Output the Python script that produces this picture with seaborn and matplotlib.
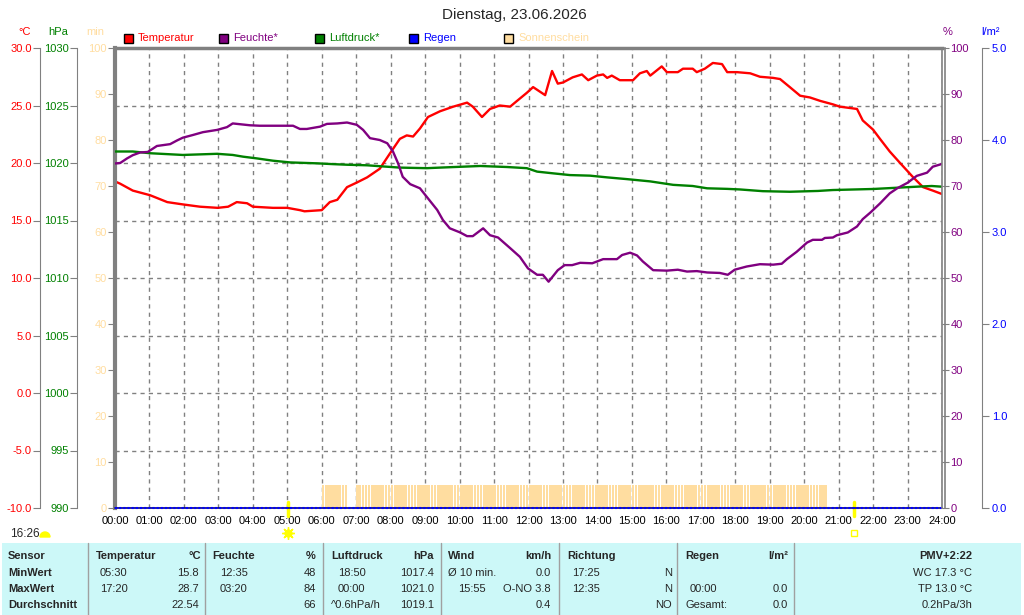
import pandas as pd
import matplotlib
matplotlib.use("Agg")
import matplotlib.pyplot as plt
import seaborn as sns
from matplotlib.patches import Rectangle, Wedge
from matplotlib.ticker import FormatStrFormatter, MultipleLocator
from matplotlib.transforms import blended_transform_factory, IdentityTransform

# ---- data ----
temp_times = ["00:00", "00:09", "00:31", "01:01", "01:31", "01:58", "02:28", "02:59", "03:17", "03:32",
              "03:50", "04:00", "04:35", "05:00", "05:22", "05:30", "06:00", "06:14", "06:27", "06:44",
              "07:01", "07:19", "07:41", "07:59", "08:16", "08:28", "08:39", "08:51", "09:05", "09:26",
              "09:49", "10:13", "10:23", "10:39", "10:53", "11:10", "11:28", "11:40", "11:57", "12:08",
              "12:20", "12:29", "12:41", "12:51", "13:00", "13:17", "13:33", "13:44", "13:59", "14:10",
              "14:17", "14:25", "14:39", "15:02", "15:14", "15:26", "15:32", "15:52", "16:01", "16:20",
              "16:29", "16:46", "16:53", "17:07", "17:21", "17:37", "17:46", "18:03", "18:26", "18:43",
              "19:06", "19:18", "19:35", "19:53", "20:10", "20:28", "20:50", "21:02", "21:32", "21:42",
              "22:00", "22:12", "22:29", "22:47", "23:09", "23:27", "23:44", "24:00"]
temp_vals = [18.4, 18.2, 17.6, 17.2, 16.6, 16.4, 16.2, 16.1, 16.2, 16.6,
             16.5, 16.2, 16.1, 16.1, 15.9, 15.8, 15.9, 16.6, 16.8, 17.9,
             18.3, 18.75, 19.5, 20.85, 22.1, 22.4, 22.3, 23.0, 24.0, 24.5,
             24.9, 25.25, 24.9, 24.0, 24.7, 25.0, 24.9, 25.4, 26.1, 26.6,
             26.2, 25.9, 28.0, 26.9, 27.0, 27.45, 27.7, 27.2, 27.6, 27.7,
             27.4, 27.6, 27.2, 27.2, 27.8, 28.0, 27.6, 28.4, 27.9, 27.9,
             28.2, 28.2, 27.9, 28.2, 28.7, 28.6, 27.9, 27.9, 27.8, 27.5,
             27.4, 27.3, 26.6, 25.85, 25.7, 25.4, 25.1, 24.9, 24.7, 23.7,
             22.9, 22.1, 21.0, 20.0, 18.8, 17.9, 17.6, 17.3]

hum_times = ["00:00", "00:09", "00:21", "00:31", "00:44", "00:57", "01:13", "01:36", "01:48", "01:58",
             "02:16", "02:33", "02:58", "03:15", "03:25", "03:55", "04:12", "05:10", "05:22", "05:34",
             "05:57", "06:09", "06:27", "06:44", "07:01", "07:12", "07:24", "07:41", "07:54", "08:04",
             "08:13", "08:21", "08:34", "08:51", "09:05", "09:21", "09:31", "09:43", "10:01", "10:13",
             "10:23", "10:41", "10:53", "11:07", "11:28", "11:45", "11:59", "12:15", "12:25", "12:35",
             "12:51", "13:03", "13:16", "13:30", "13:51", "14:10", "14:34", "14:43", "14:57", "15:09",
             "15:19", "15:37", "16:01", "16:20", "16:36", "16:53", "17:11", "17:33", "17:47", "17:59",
             "18:20", "18:43", "19:06", "19:21", "19:30", "19:47", "20:05", "20:15", "20:31", "20:36",
             "20:50", "20:57", "21:16", "21:32", "21:42", "21:55", "22:12", "22:29", "22:42", "23:00",
             "23:16", "23:34", "23:44", "24:00"]
hum_vals = [74.9, 75.0, 76.0, 76.7, 77.3, 77.4, 78.7, 79.1, 79.9, 80.5,
            81.1, 81.7, 82.2, 82.8, 83.6, 83.2, 83.1, 83.1, 82.4, 82.4,
            82.9, 83.5, 83.6, 83.8, 83.3, 82.2, 80.4, 80.0, 79.3, 77.5,
            74.9, 72.0, 70.4, 69.5, 67.3, 64.8, 62.6, 60.8, 59.9, 59.1,
            59.1, 60.8, 59.3, 58.8, 56.5, 54.6, 52.1, 50.7, 50.7, 49.2,
            51.7, 52.8, 52.8, 53.3, 53.2, 54.1, 54.1, 55.0, 55.5, 54.9,
            53.6, 51.7, 51.6, 51.8, 51.4, 51.5, 51.2, 51.1, 50.7, 51.8,
            52.5, 53.0, 52.9, 53.1, 54.1, 55.7, 57.7, 58.3, 58.3, 58.7,
            58.8, 59.3, 59.9, 61.2, 62.8, 64.2, 66.2, 68.4, 69.5, 70.7,
            72.2, 72.9, 74.2, 74.8]

press_times = ["00:00", "00:31", "01:01", "01:58", "02:58", "03:25", "03:43", "04:07", "04:35", "05:05",
               "05:52", "06:20", "06:44", "07:19", "07:47", "08:16", "09:03", "09:26", "10:36", "11:23",
               "11:57", "12:15", "12:43", "13:12", "13:47", "14:17", "14:51", "15:32", "16:12", "16:46",
               "17:11", "17:46", "18:08", "18:48", "19:35", "20:24", "20:50", "22:00", "23:16", "23:42",
               "24:00"]
press_vals = [1021.0, 1021.0, 1020.85, 1020.7, 1020.8, 1020.7, 1020.55, 1020.4, 1020.2, 1020.05,
              1019.97, 1019.9, 1019.85, 1019.8, 1019.7, 1019.6, 1019.55, 1019.6, 1019.74, 1019.65,
              1019.55, 1019.25, 1019.1, 1018.95, 1018.9, 1018.75, 1018.6, 1018.4, 1018.1, 1018.0,
              1017.8, 1017.75, 1017.7, 1017.55, 1017.5, 1017.57, 1017.65, 1017.74, 1017.94, 1018.0,
              1017.94]

sun_periods = [("06:00", "06:45"), ("07:00", "20:40")]   # sunshine 5 min per 5-min slot
sun_minutes = 5
rain_times = ["00:00", "24:00"]
rain_vals = [0.0, 0.0]
sunrise = "05:01"
sunset = "21:27"
day_length = "16:26"
hour_labels = ["00:00", "01:00", "02:00", "03:00", "04:00", "05:00", "06:00", "07:00", "08:00",
               "09:00", "10:00", "11:00", "12:00", "13:00", "14:00", "15:00", "16:00", "17:00",
               "18:00", "19:00", "20:00", "21:00", "22:00", "23:00", "24:00"]
title = "Dienstag, 23.06.2026"
legend_names = ["Temperatur", "Feuchte*", "Luftdruck*", "Regen", "Sonnenschein"]

table_rows = [
    ["Sensor", "Temperatur", "°C", "Feuchte", "%", "Luftdruck", "hPa", "Wind", "km/h",
     "Richtung", "", "Regen", "l/m²", "PMV+2:22"],
    ["MinWert", "05:30", "15.8", "12:35", "48", "18:50", "1017.4", "Ø 10 min.", "0.0",
     "17:25", "N", "", "", "WC 17.3 °C"],
    ["MaxWert", "17:20", "28.7", "03:20", "84", "00:00", "1021.0", "15:55", "O-NO 3.8",
     "12:35", "N", "00:00", "0.0", "TP 13.0 °C"],
    ["Durchschnitt", "", "22.54", "", "66", "^0.6hPa/h", "1019.1", "", "0.4",
     "", "NO", "Gesamt:", "0.0", "0.2hPa/3h"],
]


def to_h(t):
    h, m = t.split(":")
    return int(h) + int(m) / 60


C_TEMP, C_HUM, C_PRESS, C_RAIN, C_SUN = "#FF0000", "#800080", "#008000", "#0000FF", "#FFDDA0"
GRAY = "#808080"
LW = 1.7

sns.set_style("white")
plt.rcParams["font.family"] = ["Liberation Sans", "DejaVu Sans"]
plt.rcParams["font.size"] = 8

W, H = 1024, 615
fig = plt.figure(figsize=(W / 100, H / 100), dpi=100)


def fx(x):
    return x / W


def fy(y):
    return 1 - y / H


X0, X1, Y0, Y1 = 115, 942, 48, 508
ax = fig.add_axes([fx(X0), fy(Y1), (X1 - X0) / W, (Y1 - Y0) / H])
ax_sun = ax.twinx()
ax_rain = ax.twinx()
ax_p = ax.twinx()
ax_h = ax.twinx()

# temperature (main axis, grid)
sns.lineplot(x=[to_h(t) for t in temp_times], y=temp_vals, ax=ax, color=C_TEMP, lw=LW)
ax.set_xlim(0, 24)
ax.set_ylim(-10, 30)
ax.yaxis.set_major_locator(MultipleLocator(5))
ax.yaxis.set_major_formatter(FormatStrFormatter("%.1f"))
ax.set_xticks(range(25))
ax.set_xticklabels(hour_labels)
ax.grid(True, color=GRAY, ls=(0, (3, 3)), lw=1)
ax.tick_params(axis="x", length=4, color=GRAY, pad=2, labelsize=8, labelcolor="black")
ax.tick_params(axis="y", length=5, color=GRAY, pad=1, labelsize=8, labelcolor=C_TEMP)
ax.spines["left"].set_position(("axes", (40 - X0) / (X1 - X0)))
ax.spines["left"].set_color(GRAY)
ax.spines["top"].set_color(GRAY)
ax.spines["top"].set_linewidth(2.5)
ax.spines["right"].set_position(("axes", 1.004))
ax.spines["right"].set_color(GRAY)
ax.spines["right"].set_linewidth(1.2)
ax.spines["bottom"].set_visible(False)
ax.set_xlabel("")
ax.set_ylabel("")

# sunshine (min axis at the plot edge)
sun_x = []
for a, b in sun_periods:
    t = to_h(a)
    while t < to_h(b) - 1e-9:
        sun_x.append(t)
        t += 5 / 60
ax_sun.bar(sun_x, [sun_minutes] * len(sun_x), width=4.2 / 60, align="edge", color=C_SUN, linewidth=0)
ax_sun.set_ylim(0, 100)
ax_sun.yaxis.tick_left()
ax_sun.yaxis.set_major_locator(MultipleLocator(10))
ax_sun.tick_params(axis="y", length=5, color=GRAY, pad=1, labelsize=8, labelcolor=C_SUN)
for s in ["right", "top", "bottom"]:
    ax_sun.spines[s].set_visible(False)
ax_sun.spines["left"].set_color(GRAY)
ax_sun.spines["left"].set_linewidth(3)

# rain
sns.lineplot(x=[to_h(t) for t in rain_times], y=rain_vals, ax=ax_rain, color="#000080", lw=1.2)
sns.lineplot(x=[to_h(t) for t in rain_times], y=rain_vals, ax=ax_rain, color=C_RAIN, lw=1.5, ls=(0, (1, 1)))
for ln in ax_rain.lines:
    ln.set_clip_on(False)
ax_rain.set_ylim(0, 5)
ax_rain.yaxis.set_major_locator(MultipleLocator(1))
ax_rain.yaxis.set_major_formatter(FormatStrFormatter("%.1f"))
ax_rain.tick_params(axis="y", length=5, color=GRAY, pad=2, labelsize=8, labelcolor=C_RAIN)
ax_rain.spines["right"].set_position(("axes", (982 - X0) / (X1 - X0)))
ax_rain.spines["right"].set_color(GRAY)
for s in ["left", "top", "bottom"]:
    ax_rain.spines[s].set_visible(False)
ax_rain.set_ylabel("")

# pressure
sns.lineplot(x=[to_h(t) for t in press_times], y=press_vals, ax=ax_p, color=C_PRESS, lw=LW)
ax_p.set_ylim(990, 1030)
ax_p.yaxis.tick_left()
ax_p.yaxis.set_major_locator(MultipleLocator(5))
ax_p.tick_params(axis="y", length=5, color=GRAY, pad=1, labelsize=8, labelcolor=C_PRESS)
ax_p.spines["left"].set_position(("axes", (77 - X0) / (X1 - X0)))
ax_p.spines["left"].set_color(GRAY)
for s in ["right", "top", "bottom"]:
    ax_p.spines[s].set_visible(False)
ax_p.set_ylabel("")

# humidity
sns.lineplot(x=[to_h(t) for t in hum_times], y=hum_vals, ax=ax_h, color=C_HUM, lw=LW)
ax_h.set_ylim(0, 100)
ax_h.yaxis.set_major_locator(MultipleLocator(10))
ax_h.tick_params(axis="y", length=5, color=GRAY, pad=1, labelsize=8, labelcolor=C_HUM)
ax_h.spines["right"].set_color(GRAY)
ax_h.spines["right"].set_linewidth(1.2)
for s in ["left", "top", "bottom"]:
    ax_h.spines[s].set_visible(False)
ax_h.set_ylabel("")
for a in (ax_sun, ax_rain, ax_p, ax_h):
    a.set_xlabel("")
ax_h.set_xlim(0, 24)

# sunrise / sunset markers
tr = blended_transform_factory(ax.transData, ax.transAxes)
for t in (sunrise, sunset):
    ax.plot([to_h(t)] * 2, [0.013, -0.017], color="#FFFF00", lw=2.5, transform=tr, clip_on=False)
ax.plot([to_h(sunrise)], [-0.054], marker=(8, 2, 0), ms=9, color="#FFFF00", mew=1, transform=tr, clip_on=False)
ax.plot([to_h(sunrise)], [-0.054], marker="o", ms=5, color="#FFFF00", transform=tr, clip_on=False)
ax.plot([to_h(sunset)], [-0.054], marker="s", ms=5, mfc="none", mec="#FFFF00", mew=1, transform=tr, clip_on=False)

fig.text(fx(10), fy(534), day_length, ha="left", va="center", fontsize=8.5)
fig.add_artist(Wedge((45, H - 537), 5, 0, 180, transform=IdentityTransform(), color="#FFFF00"))

# title, axis units, legend
fig.text(fx(514), fy(15), title, ha="center", va="center", fontsize=11)
for txt, x, c in [("°C", 25, C_TEMP), ("hPa", 58, C_PRESS), ("min", 95, C_SUN),
                  ("%", 948, C_HUM), ("l/m²", 990, C_RAIN)]:
    fig.text(fx(x), fy(32), txt, ha="center", va="center", color=c, fontsize=8)
for name, c, x in zip(legend_names, [C_TEMP, C_HUM, C_PRESS, C_RAIN, C_SUN], [124, 219, 315, 409, 504]):
    fig.add_artist(Rectangle((fx(x), fy(43)), 9 / W, 9 / H, transform=fig.transFigure,
                             facecolor=c, edgecolor="black", lw=1))
    fig.text(fx(x + 14), fy(38), name, ha="left", va="center", color=c, fontsize=8)

# statistics table
fig.add_artist(Rectangle((fx(2), 0), 1019 / W, fy(543), transform=fig.transFigure,
                         facecolor="#CCF8F8", edgecolor="none"))
for x in [88, 205, 323, 441, 559, 677, 794]:
    fig.add_artist(plt.Line2D([fx(x), fx(x)], [0, fy(543)], transform=fig.transFigure, color="#A0A0A0", lw=1))
head_x = [8, 96, 201, 212, 316, 331, 434, 448, 551, 567, 672, 685, 788, 972]
body_x = [8, 100, 199, 220, 316, 338, 434, 448, 551, 572, 672, 690, 788, 972]
aligns = ["left", "left", "right", "left", "right", "left", "right", "left", "right",
          "left", "right", "left", "right", "right"]
overrides = {(3, 5): 331, (2, 7): 458, (3, 11): 685}
row_y = [556, 573, 589, 605]
for r, row in enumerate(table_rows):
    for c, txt in enumerate(row):
        if not txt:
            continue
        x = head_x[c] if r == 0 else overrides.get((r, c), body_x[c])
        bold = r == 0 or c == 0
        fig.text(fx(x), fy(row_y[r]), txt, ha=aligns[c], va="center", fontsize=8,
                 fontweight="bold" if bold else "normal")

fig.savefig("out.png", dpi=100)
